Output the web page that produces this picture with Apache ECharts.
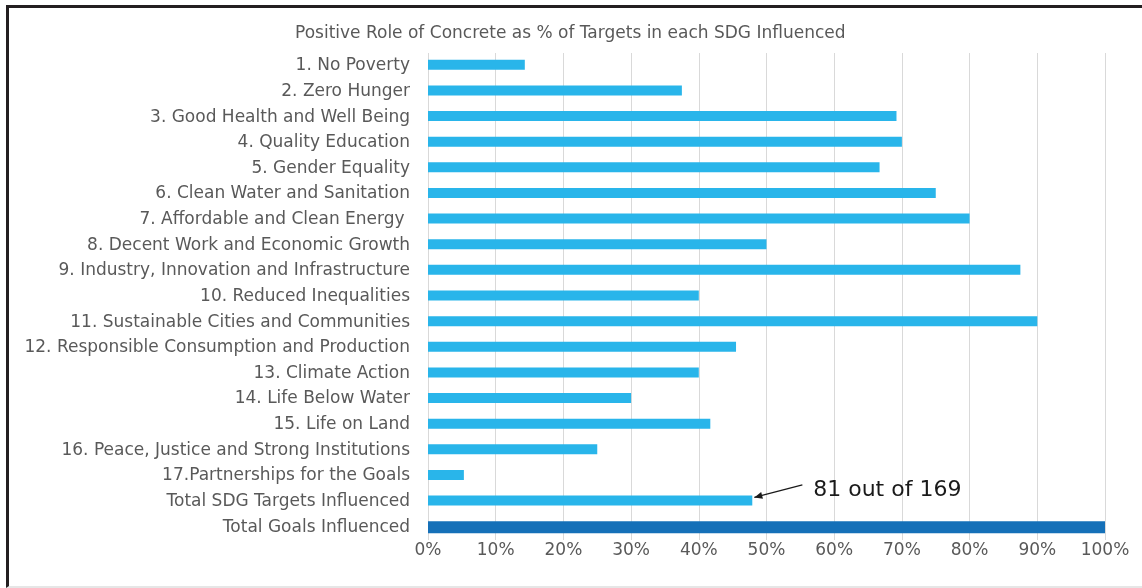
<!DOCTYPE html>
<html>
<head>
<meta charset="utf-8">
<script src="https://cdn.jsdelivr.net/npm/echarts@6/dist/echarts.min.js"></script>
<style>
    html, body {margin: 0; padding: 0; background: #fff;}
    #chart {position: absolute; left: 0; top: 0; width: 1142px; height: 588px;}
    .frame {position: absolute; left: 6px; top: 5px; width: 1136px; height: 578px;
        border-top: 3px solid #231f20; border-left: 3px solid #231f20; border-bottom: 2px solid #e6e6e6;
        pointer-events: none;}
</style>
</head>
<body>
<div id="chart"></div>
<div class="frame"></div>
<script>
// SDG 名称（从上到下）
const goals = [
    '1. No Poverty',
    '2. Zero Hunger',
    '3. Good Health and Well Being',
    '4. Quality Education',
    '5. Gender Equality',
    '6. Clean Water and Sanitation',
    '7. Affordable and Clean Energy ',
    '8. Decent Work and Economic Growth',
    '9. Industry, Innovation and Infrastructure',
    '10. Reduced Inequalities',
    '11. Sustainable Cities and Communities',
    '12. Responsible Consumption and Production',
    '13. Climate Action',
    '14. Life Below Water',
    '15. Life on Land',
    '16. Peace, Justice and Strong Institutions',
    '17.Partnerships for the Goals',
    'Total SDG Targets Influenced',
    'Total Goals Influenced'
];

// % of targets influenced
const targetShare = [14.3, 37.5, 69.2, 70, 66.7, 75, 80, 50, 87.5, 40, 90, 45.5, 40, 30, 41.7, 25, 5.3, 47.9, '-'];
const goalsShare = ['-', '-', '-', '-', '-', '-', '-', '-', '-', '-', '-', '-', '-', '-', '-', '-', '-', '-', 100];

const xTicks = [0, 10, 20, 30, 40, 50, 60, 70, 80, 90, 100];
const noteText = '81 out of 169';

const font = '"DejaVu Sans", Verdana, sans-serif';

let chart = echarts.init(document.getElementById('chart'));

chart.setOption({
    animation: false,
    title: {
        text: 'Positive Role of Concrete as % of Targets in each SDG Influenced',
        left: 290,
        top: 20,
        textStyle: {
            color: '#595959',
            fontSize: 17,
            fontWeight: 'normal',
            fontFamily: font
        }
    },
    grid: {
        left: 428,
        right: 37,
        top: 53,
        bottom: 48
    },
    xAxis: {
        type: 'value',
        min: xTicks[0],
        max: xTicks[xTicks.length - 1],
        interval: 10,
        axisLine: {show: false},
        axisTick: {show: false},
        axisLabel: {
            formatter: '{value}%',
            color: '#595959',
            fontSize: 17,
            margin: 2,
            fontFamily: font
        },
        splitLine: {lineStyle: {color: '#d9d9d9', width: 1}}
    },
    yAxis: {
        type: 'category',
        inverse: true,
        data: goals,
        axisLine: {show: false},
        axisTick: {show: false},
        axisLabel: {
            color: '#595959',
            fontSize: 17,
            margin: 18,
            fontFamily: font
        }
    },
    series: [
        {
            name: 'targets',
            type: 'bar',
            data: targetShare,
            barWidth: 10,
            barGap: '-100%',
            itemStyle: {color: '#29b5ea'}
        },
        {
            name: 'goals',
            type: 'bar',
            data: goalsShare,
            barWidth: 12,
            itemStyle: {color: '#1570b8'}
        }
    ]
});

// 注释箭头：位置由坐标轴换算（类目间取插值）
const noteRow = goals.indexOf('Total SDG Targets Influenced');
const rowY = function (idx) {
    let a = chart.convertToPixel({yAxisIndex: 0}, goals[Math.floor(idx)]);
    let b = chart.convertToPixel({yAxisIndex: 0}, goals[Math.ceil(idx)]);
    return a + (b - a) * (idx - Math.floor(idx));
};
const tail = [chart.convertToPixel({xAxisIndex: 0}, 55.3), rowY(noteRow - 0.65)];
const head = [chart.convertToPixel({xAxisIndex: 0}, targetShare[noteRow] + 0.3), rowY(noteRow - 0.16)];
const ang = Math.atan2(head[1] - tail[1], head[0] - tail[0]);
const hl = 8, hw = 3.5;
const arrowPts = [
    head,
    [head[0] - hl * Math.cos(ang) + hw * Math.sin(ang), head[1] - hl * Math.sin(ang) - hw * Math.cos(ang)],
    [head[0] - hl * Math.cos(ang) - hw * Math.sin(ang), head[1] - hl * Math.sin(ang) + hw * Math.cos(ang)]
];

chart.setOption({
    graphic: [
        {
            type: 'line',
            shape: {x1: tail[0], y1: tail[1], x2: head[0], y2: head[1]},
            style: {stroke: '#1a1a1a', lineWidth: 1.2}
        },
        {
            type: 'polygon',
            shape: {points: arrowPts},
            style: {fill: '#1a1a1a'}
        },
        {
            type: 'text',
            x: chart.convertToPixel({xAxisIndex: 0}, 56.9),
            y: rowY(noteRow - 0.45),
            style: {
                text: noteText,
                fill: '#1a1a1a',
                font: '22px ' + font,
                verticalAlign: 'middle'
            }
        }
    ]
});
</script>
</body>
</html>
